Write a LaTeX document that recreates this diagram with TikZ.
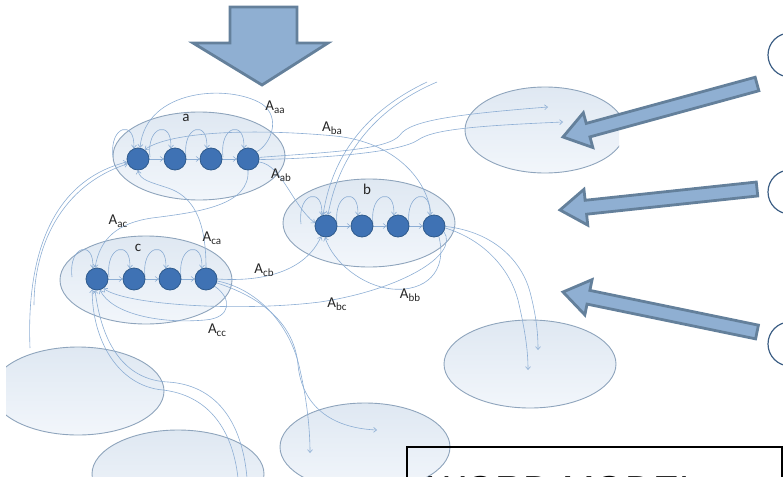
\documentclass[tikz,border=0pt]{standalone}
\usepackage{fontspec}
\setmainfont{Carlito}
\newfontfamily\boxfont{Liberation Sans}
\usetikzlibrary{shapes.geometric,arrows.meta,calc}

\definecolor{linkblue}{HTML}{8DAED4}
\definecolor{statefill}{HTML}{3F72B4}
\definecolor{statedraw}{HTML}{2E5A8C}
\definecolor{blobdraw}{HTML}{8EA4BC}
\definecolor{blobtop}{HTML}{DFE8F2}
\definecolor{blobbot}{HTML}{F2F6FB}
\definecolor{bigfill}{HTML}{8FAFD2}
\definecolor{bigdraw}{HTML}{64809B}
\definecolor{ringdraw}{HTML}{3D5F85}

\newcommand{\Asub}[1]{A\raisebox{-3pt}{\fontsize{11}{11}\selectfont #1}}

\tikzset{
  blob/.style={ellipse, draw=blobdraw, line width=0.9pt, top color=blobtop,
    bottom color=blobbot, inner sep=0pt, minimum width=172pt, minimum height=88pt},
  state/.style={circle, fill=statefill, draw=statedraw, line width=0.8pt,
    minimum size=22pt, inner sep=0pt},
  link/.style={draw=linkblue, line width=0.6pt, -{Straight Barb[length=3pt,width=5pt]}},
  lbl/.style={font=\fontsize{15}{16}\selectfont, text=black!85, inner sep=0pt},
  bigarrow/.style={fill=bigfill, draw=bigdraw, line width=2.8pt, line join=miter},
  ring/.style={draw=ringdraw, line width=1.2pt},
}

\begin{document}
\begin{tikzpicture}[x=1pt,y=-1pt]
\useasboundingbox (0,0) rectangle (783,476);
\clip (0,0) rectangle (783,476);

% ---------- the model graph ----------
\begin{scope}
\clip (6,82) rectangle (619,476);

% clusters and empty clusters
\node[blob] (A) at (199,156) {};
\node[blob] (B) at (369,223) {};
\node[blob] (C) at (146,280) {};
\node[blob, minimum width=160pt, minimum height=86pt] (E1) at (545,130) {};
\node[blob] (E2) at (530,364) {};
\node[blob] (E3) at (78,391) {};
\node[blob] (E4) at (178,474) {};
\node[blob, minimum width=170pt] (E5) at (365,447) {};

% states (placed first as invisible anchors)
\foreach \x [count=\i] in {138,175,211,248} \coordinate (pa\i) at (\x,159);
\foreach \x [count=\i] in {326,362,398,434} \coordinate (pb\i) at (\x,226);
\foreach \x [count=\i] in {97,134,170,206} \coordinate (pc\i) at (\x,279);
\foreach \k in {a,b,c}
  \foreach \i in {1,2,3,4}
    \path (p\k\i) node[state, draw=none, fill=none] (\k\i) {};

% free ends
\coordinate (tr1) at (548,107);
\coordinate (tr2) at (563,122);
\coordinate (top1) at (427,82);
\coordinate (top2) at (437,82);
\coordinate (bt1) at (247,478);
\coordinate (bt2) at (238,478);
\coordinate (bl1) at (30,348);
\coordinate (bl2) at (34,305);
\coordinate (bo1) at (310,453);
\coordinate (bo2) at (377,430);
\coordinate (rm1) at (528,370);
\coordinate (rm2) at (538,350);

% self loops (each rises from the chain line left of its state) and chain transitions
\foreach \k in {a,b,c}{
  \foreach \i in {1,2,3,4}{
    \path (\k\i) ++(-25,-2) coordinate (s\k\i);
    \draw[link] (s\k\i) .. controls +(-4,-32) and +(2,-29) .. (\k\i.112);
  }
  \draw[link] (\k1) -- (\k2);
  \draw[link] (\k2) -- (\k3);
  \draw[link] (\k3) -- (\k4);
}

% A_aa
\draw[link] (a4.40) .. controls (270,145) and (282,118) .. (262,104)
  .. controls (230,84) and (146,88) .. (a1.80);
% A_ab
\draw[link] (a4.-15) .. controls (282,165) and (292,205) .. (b1.165);
% A_ba
\draw[link] (b4.105) .. controls (428,180) and (395,142) .. (335,136)
  .. controls (250,128) and (170,132) .. (a1.55);
% a into the upper right cluster
\draw[link] (a4.8) .. controls (330,152) and (388,150) .. (400,135)
  .. controls (410,120) and (460,114) .. (tr1);
\draw[link] (a4.-3) .. controls (330,158) and (400,152) .. (418,140)
  .. controls (432,130) and (470,126) .. (tr2);
% from above into b
\draw[link] (top1) .. controls (372,108) and (333,150) .. (b1.105);
\draw[link] (top2) .. controls (380,106) and (340,150) .. (b1.80);
% A_ca
\draw[link] (c4.90) .. controls (206,218) and (192,196) .. (168,188)
  .. controls (150,182) and (140,180) .. (a1.-90);
% A_ac
\draw[link] (a4.-90) .. controls (250,205) and (200,212) .. (152,218)
  .. controls (118,223) and (100,238) .. (c1.100);
% A_cb
\draw[link] (c4.0) .. controls (262,282) and (305,272) .. (b1.-115);
% A_bb
\draw[link] (b4.-65) .. controls (448,272) and (425,292) .. (392,289)
  .. controls (362,286) and (333,262) .. (b1.-95);
% A_bc
\draw[link] (b4.-30) .. controls (460,255) and (400,290) .. (320,302)
  .. controls (240,312) and (125,305) .. (c1.-55);
% A_cc
\draw[link] (c4.-40) .. controls (232,298) and (232,318) .. (205,320)
  .. controls (160,324) and (112,314) .. (c1.-75);
% from the bottom cluster into c
\draw[link] (bt1) .. controls (242,420) and (215,385) .. (168,382)
  .. controls (125,380) and (102,345) .. (c1.-100);
\draw[link] (bt2) .. controls (232,425) and (205,395) .. (163,390)
  .. controls (118,386) and (92,340) .. (c1.-115);
% from the lower left cluster into a
\draw[link] (bl1) .. controls (26,250) and (55,180) .. (a1.195);
\draw[link] (bl2) .. controls (34,245) and (62,185) .. (a1.205);
% c into the lower middle cluster
\draw[link] (c4.-10) .. controls (262,290) and (292,330) .. (300,370)
  .. controls (307,400) and (310,430) .. (bo1);
\draw[link] (c4.-20) .. controls (270,300) and (295,330) .. (298,365)
  .. controls (302,405) and (330,428) .. (bo2);
% b into the right cluster
\draw[link] (b4.-10) .. controls (485,240) and (510,270) .. (518,300)
  .. controls (525,330) and (528,350) .. (rm1);
\draw[link] (b4.-2) .. controls (495,232) and (522,262) .. (530,292)
  .. controls (536,315) and (538,332) .. (rm2);

% visible state discs on top
\foreach \k in {a,b,c}
  \foreach \i in {1,2,3,4}
    \node[state] at (\k\i) {};

% labels
\node[lbl] (la) at (186,118) {a};
\node[lbl] (lb) at (367,189) {b};
\node[lbl] (lc) at (138,248) {c};
\node[lbl] (laa) at (275,107) {\Asub{aa}};
\node[lbl] (lba) at (332,128) {\Asub{ba}};
\node[lbl] (lab) at (281,175) {\Asub{ab}};
\node[lbl] (lac) at (118,221) {\Asub{ac}};
\node[lbl] (lca) at (212,238) {\Asub{ca}};
\node[lbl] (lcb) at (264,270) {\Asub{cb}};
\node[lbl] (lbc) at (337,304) {\Asub{bc}};
\node[lbl] (lbb) at (410,295) {\Asub{bb}};
\node[lbl] (lcc) at (217,330) {\Asub{cc}};
\end{scope}

% ---------- big arrows ----------
\draw[bigarrow] (230,7) -- (297,7) -- (297,43) -- (328,43) -- (262,85)
  -- (193,43) -- (230,43) -- cycle;

\foreach \i/\tx/\ty/\px/\py in {1/757/84/563/137, 2/757/189/560/210, 3/757/332/563/292}{
  \coordinate (t\i) at (\tx,\ty);
  \coordinate (p\i) at (\px,\py);
  \coordinate (h\i) at ($(p\i)!26pt!(t\i)$);
  \draw[bigarrow] ($(t\i)!7pt!-90:(h\i)$) -- ($(h\i)!7pt!90:(t\i)$)
    -- ($(h\i)!18pt!90:(t\i)$) -- (p\i) -- ($(h\i)!18pt!-90:(t\i)$)
    -- ($(h\i)!7pt!-90:(t\i)$) -- ($(t\i)!7pt!90:(h\i)$) -- cycle;
}

% rings at the right margin
\draw[ring] (790,55) circle (22pt);
\draw[ring] (790,192) circle (22pt);
\draw[ring] (790,344) circle (22pt);

% title box
\draw[line width=1.6pt] (407,447) rectangle (782,500);
\node[anchor=base west, inner sep=0pt, font=\boxfont\fontsize{39}{40}\selectfont] (title) at (428,503) {WORD MODEL};
\end{tikzpicture}
\end{document}
